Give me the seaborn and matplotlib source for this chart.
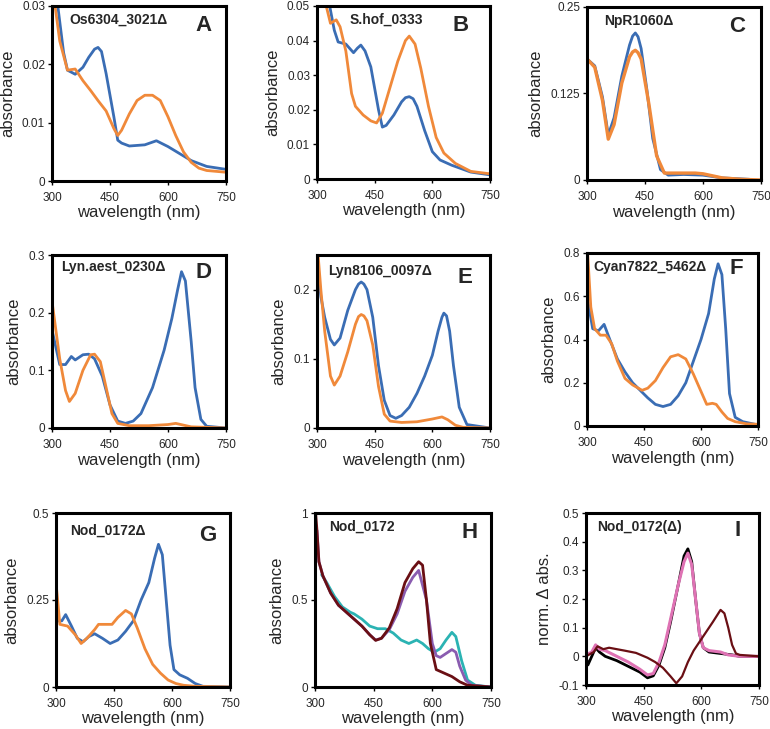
"""Absorption spectra panels A-I (wavelength scans)."""

import matplotlib
matplotlib.use("Agg")
import matplotlib.pyplot as plt
import seaborn as sns

BLUE = "#3a6db4"
ORANGE = "#f0893a"
CYAN = "#2bb3b3"
PURPLE = "#8a5cb0"
MAROON = "#6a0f14"
PINK = "#df72b4"
BLACK = "#000000"

# ---- panel A: Os6304_3021 ----
a_blue_wl = [300, 315, 330, 340, 360, 380, 395, 410, 419, 428, 440, 460, 470, 480, 500, 540, 570, 600, 630, 660, 700, 750]
a_blue = [0.040, 0.030, 0.022, 0.019, 0.0183, 0.0195, 0.0212, 0.0226, 0.0229, 0.0222, 0.0184, 0.011, 0.007, 0.0065, 0.006, 0.0062, 0.0069, 0.0059, 0.0047, 0.0035, 0.0025, 0.002]
a_orange_wl = [300, 320, 340, 360, 380, 400, 420, 440, 460, 470, 480, 500, 520, 540, 560, 580, 600, 620, 640, 660, 680, 700, 750]
a_orange = [0.034, 0.024, 0.019, 0.0192, 0.0172, 0.0155, 0.0137, 0.012, 0.009, 0.0078, 0.0087, 0.0115, 0.0138, 0.0147, 0.0147, 0.0138, 0.011, 0.0078, 0.005, 0.0032, 0.0022, 0.0018, 0.0015]

# ---- panel B: S.hof_0333 ----
b_blue_wl = [300, 320, 333, 345, 355, 375, 395, 405, 414, 425, 440, 460, 470, 480, 500, 520, 530, 540, 550, 560, 580, 600, 620, 650, 700, 750]
b_blue = [0.062, 0.053, 0.05, 0.043, 0.0396, 0.039, 0.0365, 0.0378, 0.0387, 0.037, 0.0324, 0.020, 0.015, 0.0155, 0.0185, 0.0223, 0.0235, 0.0238, 0.0232, 0.021, 0.014, 0.0079, 0.0055, 0.004, 0.002, 0.0012]
b_orange_wl = [300, 324, 335, 350, 360, 375, 390, 400, 420, 440, 455, 470, 490, 510, 530, 540, 555, 570, 590, 610, 630, 660, 700, 750]
b_orange = [0.058, 0.05, 0.045, 0.046, 0.044, 0.037, 0.0247, 0.021, 0.0185, 0.0168, 0.0162, 0.019, 0.0265, 0.034, 0.040, 0.0413, 0.039, 0.032, 0.021, 0.012, 0.0075, 0.0045, 0.0022, 0.0015]

# ---- panel C: NpR1060 ----
c_blue_wl = [300, 320, 340, 355, 370, 390, 410, 418, 425, 432, 440, 455, 470, 490, 510, 550, 600, 650, 720]
c_blue = [0.175, 0.165, 0.12, 0.065, 0.09, 0.15, 0.195, 0.208, 0.2125, 0.207, 0.19, 0.13, 0.06, 0.015, 0.007, 0.008, 0.007, 0.003, 0.001]
c_orange_wl = [300, 320, 340, 355, 370, 390, 410, 418, 425, 432, 440, 460, 480, 500, 550, 580, 600, 650, 700, 750]
c_orange = [0.175, 0.163, 0.115, 0.059, 0.08, 0.14, 0.178, 0.185, 0.1875, 0.184, 0.175, 0.11, 0.035, 0.01, 0.01, 0.01, 0.009, 0.003, 0.001, 0.0]

# ---- panel D: Lyn.aest_0230 ----
d_blue_wl = [300, 320, 335, 350, 360, 380, 395, 410, 430, 450, 470, 490, 510, 530, 560, 590, 610, 625, 635, 645, 660, 670, 685, 700, 750]
d_blue = [0.17, 0.11, 0.11, 0.124, 0.118, 0.127, 0.128, 0.12, 0.09, 0.04, 0.012, 0.008, 0.012, 0.025, 0.07, 0.135, 0.19, 0.24, 0.271, 0.255, 0.15, 0.07, 0.015, 0.003, 0.0]
d_orange_wl = [300, 320, 335, 345, 360, 380, 400, 410, 425, 440, 455, 470, 500, 550, 600, 620, 640, 660, 750]
d_orange = [0.22, 0.12, 0.065, 0.046, 0.06, 0.10, 0.127, 0.128, 0.115, 0.07, 0.025, 0.008, 0.004, 0.004, 0.006, 0.008, 0.005, 0.002, 0.0]

# ---- panel E: Lyn8106_0097 ----
e_blue_wl = [300, 310, 320, 335, 345, 360, 380, 400, 408, 415, 422, 430, 445, 460, 475, 490, 505, 520, 540, 560, 580, 600, 615, 625, 630, 637, 645, 655, 670, 690, 750]
e_blue = [0.24, 0.19, 0.16, 0.128, 0.12, 0.13, 0.17, 0.20, 0.208, 0.211, 0.208, 0.20, 0.16, 0.09, 0.04, 0.018, 0.014, 0.018, 0.03, 0.05, 0.075, 0.105, 0.14, 0.16, 0.166, 0.162, 0.14, 0.09, 0.03, 0.005, 0.0]
e_orange_wl = [300, 310, 320, 335, 345, 360, 380, 400, 408, 415, 422, 430, 445, 460, 475, 490, 520, 560, 600, 625, 640, 660, 680, 750]
e_orange = [0.27, 0.20, 0.14, 0.075, 0.062, 0.075, 0.11, 0.15, 0.161, 0.164, 0.162, 0.155, 0.12, 0.06, 0.02, 0.01, 0.008, 0.009, 0.013, 0.016, 0.012, 0.004, 0.001, 0.0]

# ---- panel F: Cyan7822_5462 ----
f_blue_wl = [300, 315, 330, 345, 360, 380, 400, 420, 440, 460, 480, 500, 520, 540, 560, 580, 600, 620, 635, 645, 655, 665, 675, 690, 710, 750]
f_blue = [0.60, 0.45, 0.44, 0.47, 0.40, 0.31, 0.25, 0.20, 0.165, 0.13, 0.10, 0.09, 0.10, 0.14, 0.20, 0.30, 0.40, 0.52, 0.68, 0.75, 0.70, 0.45, 0.15, 0.04, 0.02, 0.005]
f_orange_wl = [300, 310, 320, 335, 350, 365, 380, 400, 420, 445, 460, 480, 500, 520, 540, 560, 580, 600, 615, 630, 640, 655, 670, 690, 720, 750]
f_orange = [0.85, 0.55, 0.45, 0.42, 0.42, 0.38, 0.30, 0.22, 0.19, 0.165, 0.175, 0.21, 0.27, 0.32, 0.33, 0.31, 0.24, 0.16, 0.10, 0.105, 0.10, 0.065, 0.035, 0.02, 0.01, 0.008]

# ---- panel G: Nod_0172 deletion ----
g_blue_wl = [300, 315, 325, 340, 355, 370, 385, 400, 420, 440, 460, 480, 500, 520, 540, 555, 565, 575, 585, 595, 605, 620, 640, 660, 680, 750]
g_blue = [0.19, 0.19, 0.208, 0.175, 0.14, 0.13, 0.145, 0.153, 0.14, 0.125, 0.135, 0.16, 0.19, 0.25, 0.30, 0.37, 0.41, 0.38, 0.25, 0.12, 0.05, 0.035, 0.025, 0.01, 0.002, 0.0]
g_orange_wl = [300, 310, 330, 350, 365, 380, 400, 410, 430, 445, 460, 480, 495, 510, 530, 550, 570, 590, 610, 630, 660, 750]
g_orange = [0.30, 0.18, 0.175, 0.15, 0.125, 0.14, 0.165, 0.18, 0.18, 0.18, 0.20, 0.22, 0.21, 0.17, 0.11, 0.065, 0.04, 0.02, 0.01, 0.005, 0.002, 0.0]

# ---- panel H: Nod_0172 ----
h_cyan_wl = [317, 330, 350, 370, 390, 400, 420, 440, 460, 480, 500, 520, 540, 560, 575, 590, 605, 620, 635, 650, 660, 675, 690, 710, 750]
h_cyan = [0.645, 0.60, 0.52, 0.46, 0.43, 0.42, 0.39, 0.35, 0.335, 0.335, 0.31, 0.27, 0.25, 0.27, 0.25, 0.22, 0.20, 0.22, 0.27, 0.314, 0.29, 0.15, 0.04, 0.01, 0.0]
h_purple_wl = [305, 310, 320, 340, 360, 380, 400, 420, 440, 455, 470, 490, 510, 530, 550, 565, 585, 600, 610, 620, 640, 650, 660, 670, 685, 700, 750]
h_purple = [0.90, 0.72, 0.64, 0.54, 0.47, 0.43, 0.39, 0.35, 0.30, 0.27, 0.28, 0.33, 0.42, 0.55, 0.63, 0.67, 0.50, 0.25, 0.18, 0.17, 0.20, 0.215, 0.20, 0.12, 0.04, 0.01, 0.0]
h_maroon_wl = [300, 305, 310, 320, 340, 360, 380, 400, 420, 440, 455, 470, 490, 510, 530, 550, 565, 575, 585, 595, 610, 630, 650, 670, 690, 750]
h_maroon = [1.05, 0.90, 0.72, 0.64, 0.54, 0.47, 0.43, 0.39, 0.35, 0.30, 0.268, 0.28, 0.34, 0.45, 0.60, 0.68, 0.72, 0.70, 0.50, 0.25, 0.10, 0.08, 0.06, 0.03, 0.01, 0.0]

# ---- panel I: Nod_0172(delta) difference spectra ----
i_black_wl = [300, 305, 315, 325, 335, 350, 380, 410, 440, 460, 475, 490, 505, 520, 540, 555, 565, 575, 585, 595, 605, 620, 650, 680, 700, 750]
i_black = [0.0, -0.03, 0.0, 0.03, 0.015, 0.0, -0.015, -0.035, -0.055, -0.075, -0.068, -0.03, 0.03, 0.12, 0.25, 0.35, 0.375, 0.33, 0.20, 0.08, 0.03, 0.015, 0.01, 0.005, 0.0, 0.0]
i_pink_wl = [300, 315, 325, 335, 350, 380, 410, 440, 460, 475, 490, 505, 520, 540, 555, 565, 575, 585, 595, 605, 620, 650, 670, 700, 750]
i_pink = [0.005, 0.015, 0.04, 0.025, 0.02, 0.0, -0.02, -0.045, -0.065, -0.06, -0.02, 0.04, 0.13, 0.25, 0.33, 0.36, 0.32, 0.20, 0.08, 0.03, 0.02, 0.015, 0.005, 0.0, 0.0]
i_maroon_wl = [300, 320, 330, 345, 360, 400, 430, 460, 480, 500, 520, 535, 550, 565, 580, 595, 610, 630, 650, 660, 670, 680, 690, 700, 750]
i_maroon = [0.0, 0.015, 0.035, 0.025, 0.03, 0.02, 0.012, -0.005, -0.02, -0.04, -0.07, -0.094, -0.07, -0.02, 0.02, 0.05, 0.08, 0.12, 0.162, 0.15, 0.10, 0.04, 0.01, 0.005, 0.0]

PANELS = [
    # letter, title, box (left, top, right, bottom px), ylim, yticks, ytick labels, ylabel, series, title xy, letter xy
    ("A", "Os6304_3021\u0394", (52, 6, 226, 181), (0, 0.03), [0, 0.01, 0.02, 0.03], ["0", "0.01", "0.02", "0.03"], "absorbance",
     [(a_blue_wl, a_blue, BLUE, 2.0), (a_orange_wl, a_orange, ORANGE, 2.0)], (0.10, 0.92), (0.87, 0.89)),
    ("B", "S.hof_0333", (317, 6, 490, 179), (0, 0.05), [0, 0.01, 0.02, 0.03, 0.04, 0.05], ["0", "0.01", "0.02", "0.03", "0.04", "0.05"], "absorbance",
     [(b_blue_wl, b_blue, BLUE, 2.0), (b_orange_wl, b_orange, ORANGE, 2.0)], (0.19, 0.92), (0.83, 0.89)),
    ("C", "NpR1060\u0394", (587, 7, 761, 180), (0, 0.25), [0, 0.125, 0.25], ["0", "0.125", "0.25"], "absorbance",
     [(c_blue_wl, c_blue, BLUE, 2.0), (c_orange_wl, c_orange, ORANGE, 2.4)], (0.10, 0.92), (0.86, 0.89)),
    ("D", "Lyn.aest_0230\u0394", (52, 255, 226, 428), (0, 0.3), [0, 0.1, 0.2, 0.3], ["0", "0.1", "0.2", "0.3"], "absorbance",
     [(d_blue_wl, d_blue, BLUE, 2.0), (d_orange_wl, d_orange, ORANGE, 2.0)], (0.05, 0.93), (0.87, 0.90)),
    ("E", "Lyn8106_0097\u0394", (317, 255, 490, 428), (0, 0.25), [0, 0.1, 0.2], ["0", "0.1", "0.2"], "absorbance",
     [(e_blue_wl, e_blue, BLUE, 2.0), (e_orange_wl, e_orange, ORANGE, 2.0)], (0.065, 0.91), (0.855, 0.87)),
    ("F", "Cyan7822_5462\u0394", (587, 253, 758, 426), (0, 0.8), [0, 0.2, 0.4, 0.6, 0.8], ["0", "0.2", "0.4", "0.6", "0.8"], "absorbance",
     [(f_blue_wl, f_blue, BLUE, 2.0), (f_orange_wl, f_orange, ORANGE, 2.0)], (0.035, 0.92), (0.875, 0.91)),
    ("G", "Nod_0172\u0394", (56, 513, 230, 687), (0, 0.5), [0, 0.25, 0.5], ["0", "0.25", "0.5"], "absorbance",
     [(g_blue_wl, g_blue, BLUE, 2.0), (g_orange_wl, g_orange, ORANGE, 2.0)], (0.08, 0.90), (0.875, 0.87)),
    ("H", "Nod_0172", (315, 513, 491, 687), (0, 1), [0, 0.5, 1], ["0", "0.5", "1"], "absorbance",
     [(h_cyan_wl, h_cyan, CYAN, 2.0), (h_purple_wl, h_purple, PURPLE, 2.0), (h_maroon_wl, h_maroon, MAROON, 2.0)], (0.08, 0.92), (0.88, 0.89)),
    ("I", "Nod_0172(\u0394)", (586, 513, 759, 685), (-0.1, 0.5), [-0.1, 0, 0.1, 0.2, 0.3, 0.4, 0.5], ["-0.1", "0", "0.1", "0.2", "0.3", "0.4", "0.5"], "norm. \u0394 abs.",
     [(i_black_wl, i_black, BLACK, 2.0), (i_pink_wl, i_pink, PINK, 2.2), (i_maroon_wl, i_maroon, MAROON, 1.6)], (0.064, 0.92), (0.875, 0.90)),
]

W, H = 770, 729

sns.set_theme(style="white")
plt.rcParams["font.family"] = ["Liberation Sans", "DejaVu Sans"]

fig = plt.figure(figsize=(W / 100, H / 100), dpi=100)

for letter, title, box, ylim, yticks, ylabels, ylabel, series, txy, lxy in PANELS:
    left, top, right, bottom = box
    ax = fig.add_axes([left / W, 1 - bottom / H, (right - left) / W, (bottom - top) / H])
    for wl, vals, color, lw in series:
        sns.lineplot(x=wl, y=vals, ax=ax, color=color, linewidth=lw, sort=False)
    ax.set_xlim(300, 750)
    ax.set_ylim(*ylim)
    ax.set_xticks([300, 450, 600, 750])
    ax.set_xticklabels(["300", "450", "600", "750"], fontsize=8.5)
    ax.set_yticks(yticks)
    ax.set_yticklabels(ylabels, fontsize=8.5)
    ax.tick_params(axis="x", direction="out", length=3, width=1, color="black", pad=5)
    ax.tick_params(axis="y", direction="out", length=3, width=1, color="black", pad=2)
    ax.tick_params(bottom=True, left=True)
    for sp in ax.spines.values():
        sp.set_linewidth(2.2)
        sp.set_color("black")
    ax.set_xlabel("wavelength (nm)", fontsize=12, labelpad=1)
    ax.set_ylabel(ylabel, fontsize=12, labelpad=5)
    ax.text(txy[0], txy[1], title, transform=ax.transAxes, fontsize=10,
            fontweight="bold", ha="left", va="center")
    ax.text(lxy[0], lxy[1], letter, transform=ax.transAxes, fontsize=16,
            fontweight="heavy", ha="center", va="center")

fig.savefig("out.png", dpi=100)
